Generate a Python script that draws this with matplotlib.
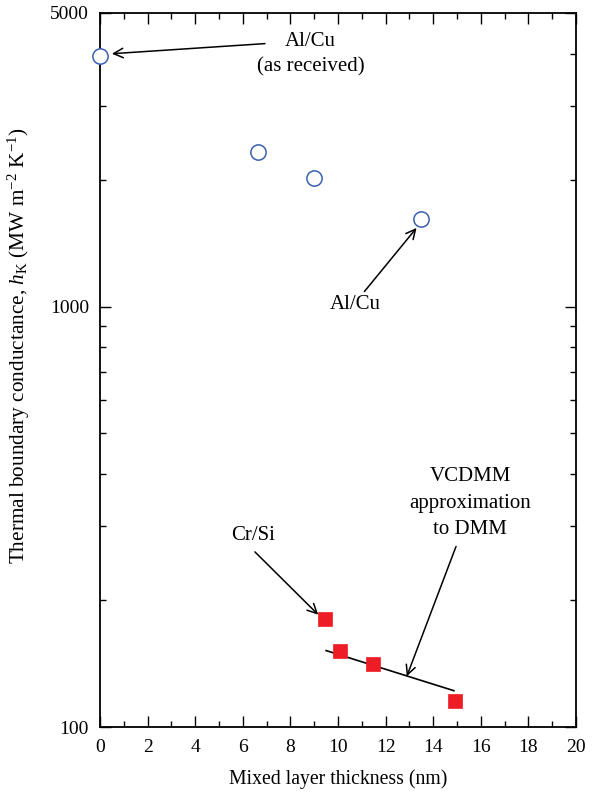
import matplotlib
matplotlib.use("Agg")
import matplotlib.pyplot as plt
from matplotlib.ticker import FixedLocator, NullFormatter, MultipleLocator

plt.rcParams['font.family'] = ['Liberation Serif', 'DejaVu Serif']
plt.rcParams['mathtext.fontset'] = 'custom'
plt.rcParams['mathtext.rm'] = 'Liberation Serif'
plt.rcParams['mathtext.it'] = 'Liberation Serif:italic'

# Al/Cu interfaces (open circles)
alcu_thickness = [0.0, 6.64, 8.99, 13.49]
alcu_hk = [3940, 2330, 2020, 1620]

# Cr/Si interfaces (filled squares)
crsi_thickness = [9.45, 10.08, 11.47, 14.92]
crsi_hk = [181, 152, 141, 115]

# VCDMM approximation to DMM
vcdmm_thickness = [9.5, 14.87]
vcdmm_hk = [152, 122]

fig = plt.figure(figsize=(6.0, 7.93), dpi=100)
ax = fig.add_axes([100/600, 1-727/793, 476/600, 714/793])

ax.plot(vcdmm_thickness, vcdmm_hk, color='black', lw=1.2, zorder=2)
ax.plot(alcu_thickness, alcu_hk, ls='none', marker='o', ms=11, mfc='white',
        mec='#3a5fb0', mew=1.1, zorder=3, clip_on=False)
ax.plot(crsi_thickness, crsi_hk, ls='none', marker='s', ms=10, mfc='#ee1c25',
        mec='#ee1c25', mew=0.5, zorder=3)

ax.set_yscale('log')
ax.set_xlim(0, 20)
ax.set_ylim(100, 5000)

ax.xaxis.set_major_locator(MultipleLocator(2))
ax.xaxis.set_minor_locator(MultipleLocator(1))
ax.yaxis.set_major_locator(FixedLocator([100, 1000, 5000]))
ax.yaxis.set_minor_locator(FixedLocator([200, 300, 400, 500, 600, 700, 800, 900,
                                          2000, 3000, 4000]))
ax.yaxis.set_minor_formatter(NullFormatter())
ax.set_yticklabels(['100', '1000', '5000'])

ax.tick_params(which='both', direction='in', top=True, right=True, labelsize=14,
               width=1.0)
ax.tick_params(which='major', length=8)
ax.tick_params(axis='x', which='major', pad=9)
ax.tick_params(axis='y', which='major', pad=8)
ax.tick_params(which='minor', length=4)
for s in ax.spines.values():
    s.set_linewidth(1.3)

ax.set_xlabel('Mixed layer thickness (nm)', fontsize=14.2, labelpad=9)
ax.set_ylabel(r'Thermal boundary conductance, $h_\mathrm{K}$ (MW m$^{-2}$ K$^{-1}$)',
              fontsize=15.3)
ax.yaxis.set_label_coords(-0.142, 0.534)

arrow = dict(arrowstyle='->', color='black', lw=1.1, shrinkA=0, shrinkB=0,
             mutation_scale=17)
fs = 15

ax.text(8.85, 3990, 'Al/Cu\n(as received)', ha='center', va='center',
        fontsize=fs, linespacing=1.42)
ax.annotate('', xy=(0.50, 4000), xytext=(6.93, 4228), arrowprops=arrow)

ax.text(10.71, 1011, 'Al/Cu', ha='center', va='center', fontsize=fs)
ax.annotate('', xy=(13.30, 1540), xytext=(11.11, 1087), arrowprops=arrow)

ax.text(6.43, 286, 'Cr/Si', ha='center', va='center', fontsize=fs)
ax.annotate('', xy=(9.17, 185), xytext=(6.51, 261), arrowprops=arrow)

ax.text(15.55, 341, 'VCDMM\napproximation\nto DMM', ha='center', va='center',
        fontsize=fs, linespacing=1.52)
ax.annotate('', xy=(12.89, 132), xytext=(14.96, 269), arrowprops=arrow)

fig.savefig('out.png', dpi=100)
